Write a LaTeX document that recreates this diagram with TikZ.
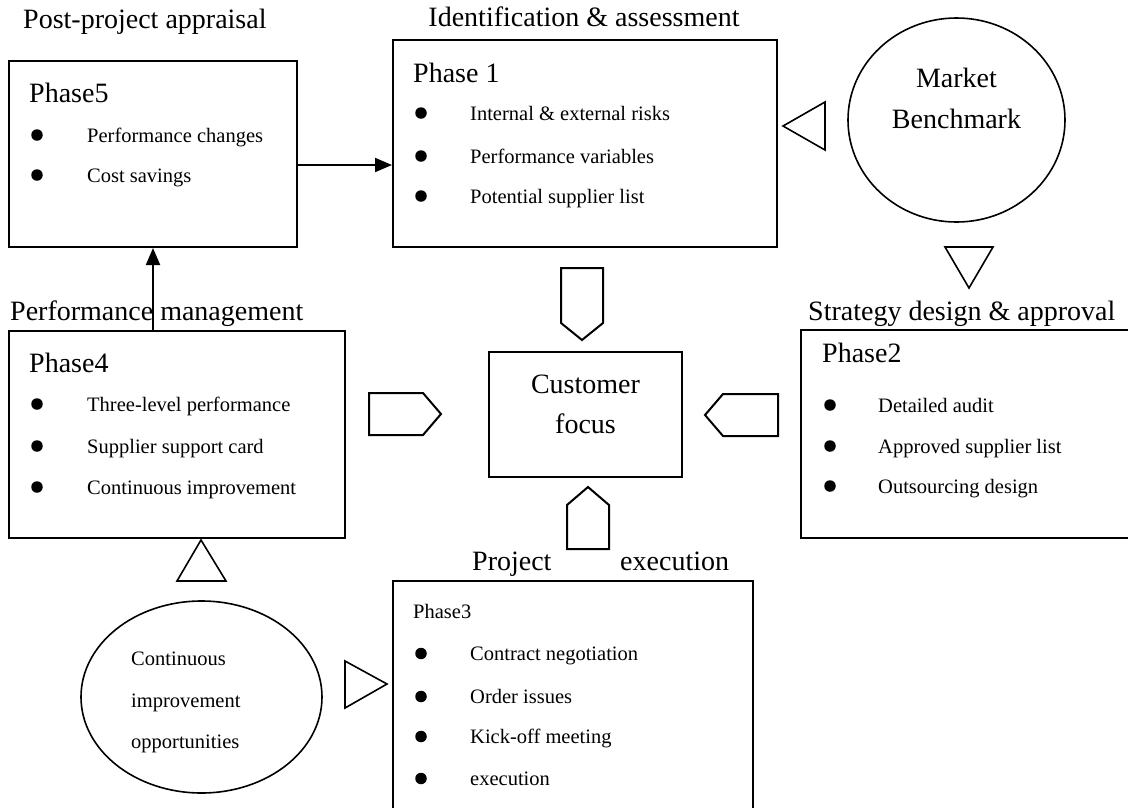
\documentclass[tikz,border=0pt]{standalone}
\usepackage{fontspec}
\setmainfont{Liberation Serif}
\usetikzlibrary{arrows.meta,shapes.geometric}
\begin{document}
\begin{tikzpicture}[x=1pt,y=-1pt,
  box/.style={draw,line width=2pt,rectangle,inner sep=0pt},
  oval/.style={draw,line width=1.6pt,ellipse,inner sep=0pt},
  bigtext/.style={anchor=base west,inner sep=0pt,font=\fontsize{28}{30}\selectfont},
  smalltext/.style={anchor=base west,inner sep=0pt,font=\fontsize{20.5}{22}\selectfont},
  dot/.style={circle,fill=black,inner sep=0pt,minimum size=11.5pt},
  blockshape/.style={draw,line width=2pt,line join=miter,fill=white},
  link/.style={line width=2pt,-{Triangle[length=17pt,width=14pt]}}]
\useasboundingbox (0,0) rectangle (1128,807);
\clip (0,0) rectangle (1128,807);

% boxes
\node[box,minimum width=288pt,minimum height=186pt] (p5) at (153,154) {};
\node[box,minimum width=384pt,minimum height=207pt] (p1) at (585,143.5) {};
\node[box,minimum width=339pt,minimum height=208pt] (p2) at (970.5,434) {};
\node[box,minimum width=193pt,minimum height=125pt] (cf) at (585.5,414.5) {};
\node[box,minimum width=336pt,minimum height=207pt] (p4) at (177,434.5) {};
\node[box,minimum width=360pt,minimum height=249pt] (p3) at (573,705.5) {};
\node[oval,minimum width=217pt,minimum height=204pt] (mb) at (956.5,120) {};
\node[oval,minimum width=241pt,minimum height=192pt] (ci) at (201.5,697) {};

% titles
\node[bigtext] (t5) at (23,28) {Post-project appraisal};
\node[bigtext,anchor=base] (t1) at (584,26) {Identification \& assessment};
\node[bigtext] (t2) at (808,320) {Strategy design \& approval};
\node[bigtext] (t4) at (10,320) {Performance management};
\node[bigtext] (t3a) at (472,570) {Project};
\node[bigtext] (t3b) at (620,570) {execution};

% phase labels
\node[bigtext] (l5) at (29,102) {Phase5};
\node[bigtext] (l1) at (413,82) {Phase 1};
\node[bigtext] (l2) at (822,362) {Phase2};
\node[bigtext] (l4) at (29,372) {Phase4};
\node[smalltext] (l3) at (413,618) {Phase3};

% centre and circles
\node[bigtext,anchor=base] (cf1) at (585.5,393) {Customer};
\node[bigtext,anchor=base] (cf2) at (585.5,433) {focus};
\node[bigtext,anchor=base] (mb1) at (956.5,87) {Market};
\node[bigtext,anchor=base] (mb2) at (956.5,128) {Benchmark};
\node[smalltext] (ci1) at (131,665) {Continuous};
\node[smalltext] (ci2) at (131,707) {improvement};
\node[smalltext] (ci3) at (131,748) {opportunities};

% bullet lists
\foreach \y/\t [count=\i] in {142/Performance changes,182/Cost savings}{
  \node[dot] (b5\i) at (37,\y-7) {};
  \node[smalltext] (s5\i) at (87,\y) {\t};}
\foreach \y/\t [count=\i] in {120/Internal \& external risks,163/Performance variables,203/Potential supplier list}{
  \node[dot] (b1\i) at (421,\y-7) {};
  \node[smalltext] (s1\i) at (470,\y) {\t};}
\foreach \y/\t [count=\i] in {412/Detailed audit,453/Approved supplier list,493/Outsourcing design}{
  \node[dot] (b2\i) at (830,\y-7) {};
  \node[smalltext] (s2\i) at (878,\y) {\t};}
\foreach \y/\t [count=\i] in {411/Three-level performance,453/Supplier support card,494/Continuous improvement}{
  \node[dot] (b4\i) at (37,\y-7) {};
  \node[smalltext] (s4\i) at (87,\y) {\t};}
\foreach \y/\t [count=\i] in {660/Contract negotiation,703/Order issues,743/Kick-off meeting,785/execution}{
  \node[dot] (b3\i) at (421,\y-6.5) {};
  \node[smalltext] (s3\i) at (470,\y) {\t};}

% block arrows
\draw[blockshape] (561,268) -- (603,268) -- (603,323) -- (582,340) -- (561,323) -- cycle;
\draw[blockshape] (567,549) -- (567,505) -- (588,487) -- (609,505) -- (609,549) -- cycle;
\draw[blockshape] (369,393) -- (423,393) -- (441,414) -- (423,435) -- (369,435) -- cycle;
\draw[blockshape] (778,394) -- (723,394) -- (705,415) -- (723,436) -- (778,436) -- cycle;
\draw[blockshape,line width=1.6pt] (825,102) -- (825,150) -- (783,126) -- cycle;
\draw[blockshape,line width=1.6pt] (945,247) -- (993,247) -- (969,288) -- cycle;
\draw[blockshape,line width=1.6pt] (177,581) -- (226,581) -- (201,540) -- cycle;
\draw[blockshape,line width=1.6pt] (345,661) -- (345,708) -- (387,684) -- cycle;

% connectors
\draw[link] (p5.east |- 0,165) -- (p1.west |- 0,165);
\draw[link] (p4.north -| 153,0) -- (p5.south -| 153,0);
\end{tikzpicture}
\end{document}
